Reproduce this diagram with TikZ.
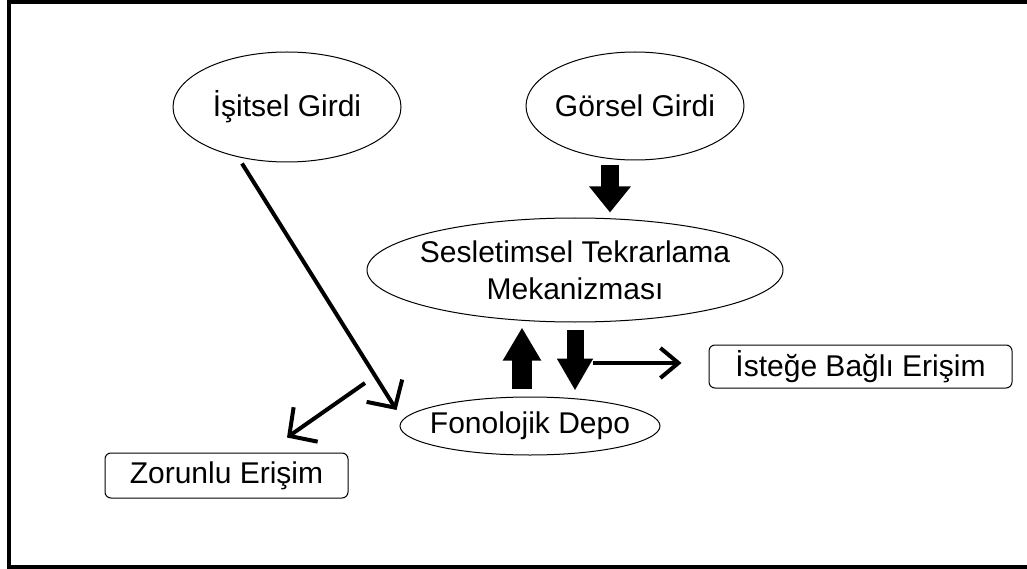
\documentclass[tikz,border=0pt]{standalone}
\usepackage{fontspec}
\setmainfont{Liberation Sans}
\usetikzlibrary{shapes.geometric,arrows.meta,calc}
\begin{document}
\begin{tikzpicture}[x=1pt,y=-1pt,
  lbl/.style={font=\fontsize{30}{37}\selectfont},
  oval/.style={draw, line width=1pt, ellipse, inner sep=0pt},
  rbox/.style={draw, line width=1pt, rounded corners=6pt, inner sep=0pt, lbl},
  linearrow/.style={line width=4pt, -{Straight Barb[length=20pt,width=42pt]}},
  smallarrow/.style={line width=4pt, -{Straight Barb[length=18pt,width=30pt]}},
  blockarrow/.style n args={3}{line width=#1, -{Triangle[length=#3,width=#2]}}]
\useasboundingbox (0,0) rectangle (1027,569);
\draw[line width=4pt] (1030,2) -- (9,2) -- (9,567) -- (1030,567);

\node[oval, minimum width=228pt, minimum height=110pt, label={[lbl]center:İşitsel Girdi}] (isitsel) at (287,107) {};
\node[oval, minimum width=218pt, minimum height=108pt, label={[lbl]center:Görsel Girdi}] (gorsel) at (635,106) {};
\node[oval, minimum width=416pt, minimum height=104pt, label={[lbl,align=center]center:Sesletimsel Tekrarlama\\Mekanizması}] (seslet) at (575,270) {};
\node[oval, minimum width=260pt, minimum height=58pt, label={[lbl]center:Fonolojik Depo}] (fono) at (530,426) {};
\node[rbox, minimum width=303pt, minimum height=43pt] (istege) at (860.5,366.5) {İsteğe Bağlı Erişim};
\node[rbox, minimum width=243pt, minimum height=45pt] (zorunlu) at (226.5,475.5) {Zorunlu Erişim};

\coordinate (zs) at (365,383);
\coordinate (rs) at (593,363);

\draw[blockarrow={18pt}{40pt}{26pt}] ([xshift=-25pt,yshift=-5pt]gorsel.south) -- ([xshift=35pt,yshift=5pt]seslet.north);
\draw[blockarrow={20pt}{36pt}{33pt}] ([xshift=-8pt,yshift=8pt]fono.north) -- ([xshift=-53pt,yshift=-5pt]seslet.south);
\draw[blockarrow={17pt}{34pt}{32pt}] ([yshift=-7pt]seslet.south) -- ([xshift=45pt,yshift=6pt]fono.north);

\draw[linearrow] ([xshift=-45pt,yshift=-1pt]isitsel.south) -- ([xshift=-3pt,yshift=16pt]fono.west);
\draw[linearrow] (zs) -- ([xshift=60.5pt,yshift=15pt]zorunlu.north);
\draw[smallarrow] (rs) -- ([xshift=-27pt,yshift=3.5pt]istege.west);
\end{tikzpicture}
\end{document}
